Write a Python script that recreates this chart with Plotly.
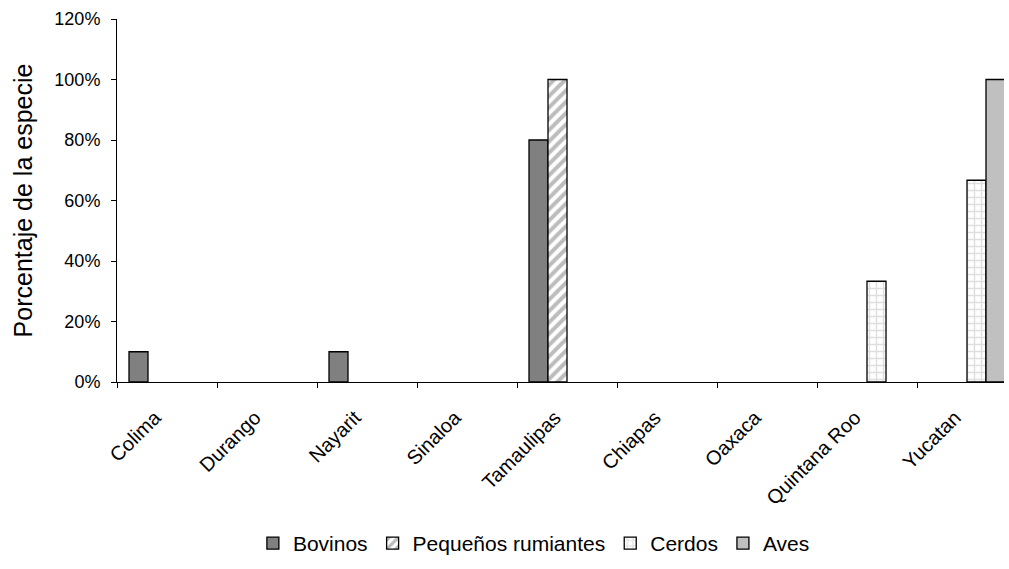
import plotly.graph_objects as go

categories = ["Colima", "Durango", "Nayarit", "Sinaloa", "Tamaulipas",
              "Chiapas", "Oaxaca", "Quintana Roo", "Yucatan"]
bovinos = [0.10, None, 0.10, None, 0.80, None, None, None, None]
pequenos = [None, None, None, None, 1.00, None, None, None, None]
cerdos = [None, None, None, None, None, None, None, 0.333, 0.667]
aves = [None, None, None, None, None, None, None, None, 1.00]
y_ticks = [0, 0.2, 0.4, 0.6, 0.8, 1.0, 1.2]

font = "Arial, Liberation Sans, sans-serif"
line = dict(color="#000000", width=1.3)

fig = go.Figure()
fig.add_trace(go.Bar(name="Bovinos", x=categories, y=bovinos,
                     marker=dict(color="#808080", line=line)))
fig.add_trace(go.Bar(name="Pequeños rumiantes", x=categories, y=pequenos,
                     marker=dict(color="#ffffff", line=line,
                                 pattern=dict(shape="/", fgcolor="#7a7a7a", bgcolor="#ffffff",
                                              size=8, solidity=0.5, fillmode="overlay"))))
fig.add_trace(go.Bar(name="Cerdos", x=categories, y=cerdos,
                     marker=dict(color="#ffffff", line=line,
                                 pattern=dict(shape="+", fgcolor="#bdbdbd", bgcolor="#ffffff",
                                              size=7, solidity=0.35, fillmode="overlay"))))
fig.add_trace(go.Bar(name="Aves", x=categories, y=aves,
                     marker=dict(color="#c0c0c0", line=line)))

fig.update_layout(
    width=1009, height=569,
    paper_bgcolor="white", plot_bgcolor="white",
    margin=dict(l=117, r=5, t=19, b=187, autoexpand=False),
    barmode="group", bargap=0.24, bargroupgap=0,
    font=dict(family=font, size=18, color="#000000"),
    showlegend=True,
    legend=dict(orientation="h", x=0.47, xanchor="center", y=-0.445, yanchor="middle",
                font=dict(size=21, family=font), itemwidth=30, traceorder="normal"),
    xaxis=dict(range=[-0.5, 8.37], showline=True, linecolor="#000000", linewidth=1,
               ticks="outside", ticklen=5, tickcolor="#000000", tickson="boundaries",
               tickangle=-45, tickfont=dict(size=20, family=font), showgrid=False,
               ticklabelstandoff=15, ticklabelshift=-12,
               automargin=False),
    yaxis=dict(range=[0, 1.2], tickvals=y_ticks, tickformat=".0%",
               showline=True, linecolor="#000000", linewidth=1,
               ticks="outside", ticklen=5, tickcolor="#000000", showgrid=False,
               zeroline=False, tickfont=dict(size=18, family=font), automargin=False,
               ticklabelstandoff=7,
               title=dict(text="Porcentaje de la especie", font=dict(size=25, family=font),
                          standoff=14)),
)

fig.write_html("out.html", post_script="document.body.style.margin='0';",
               config={"displayModeBar": False})
